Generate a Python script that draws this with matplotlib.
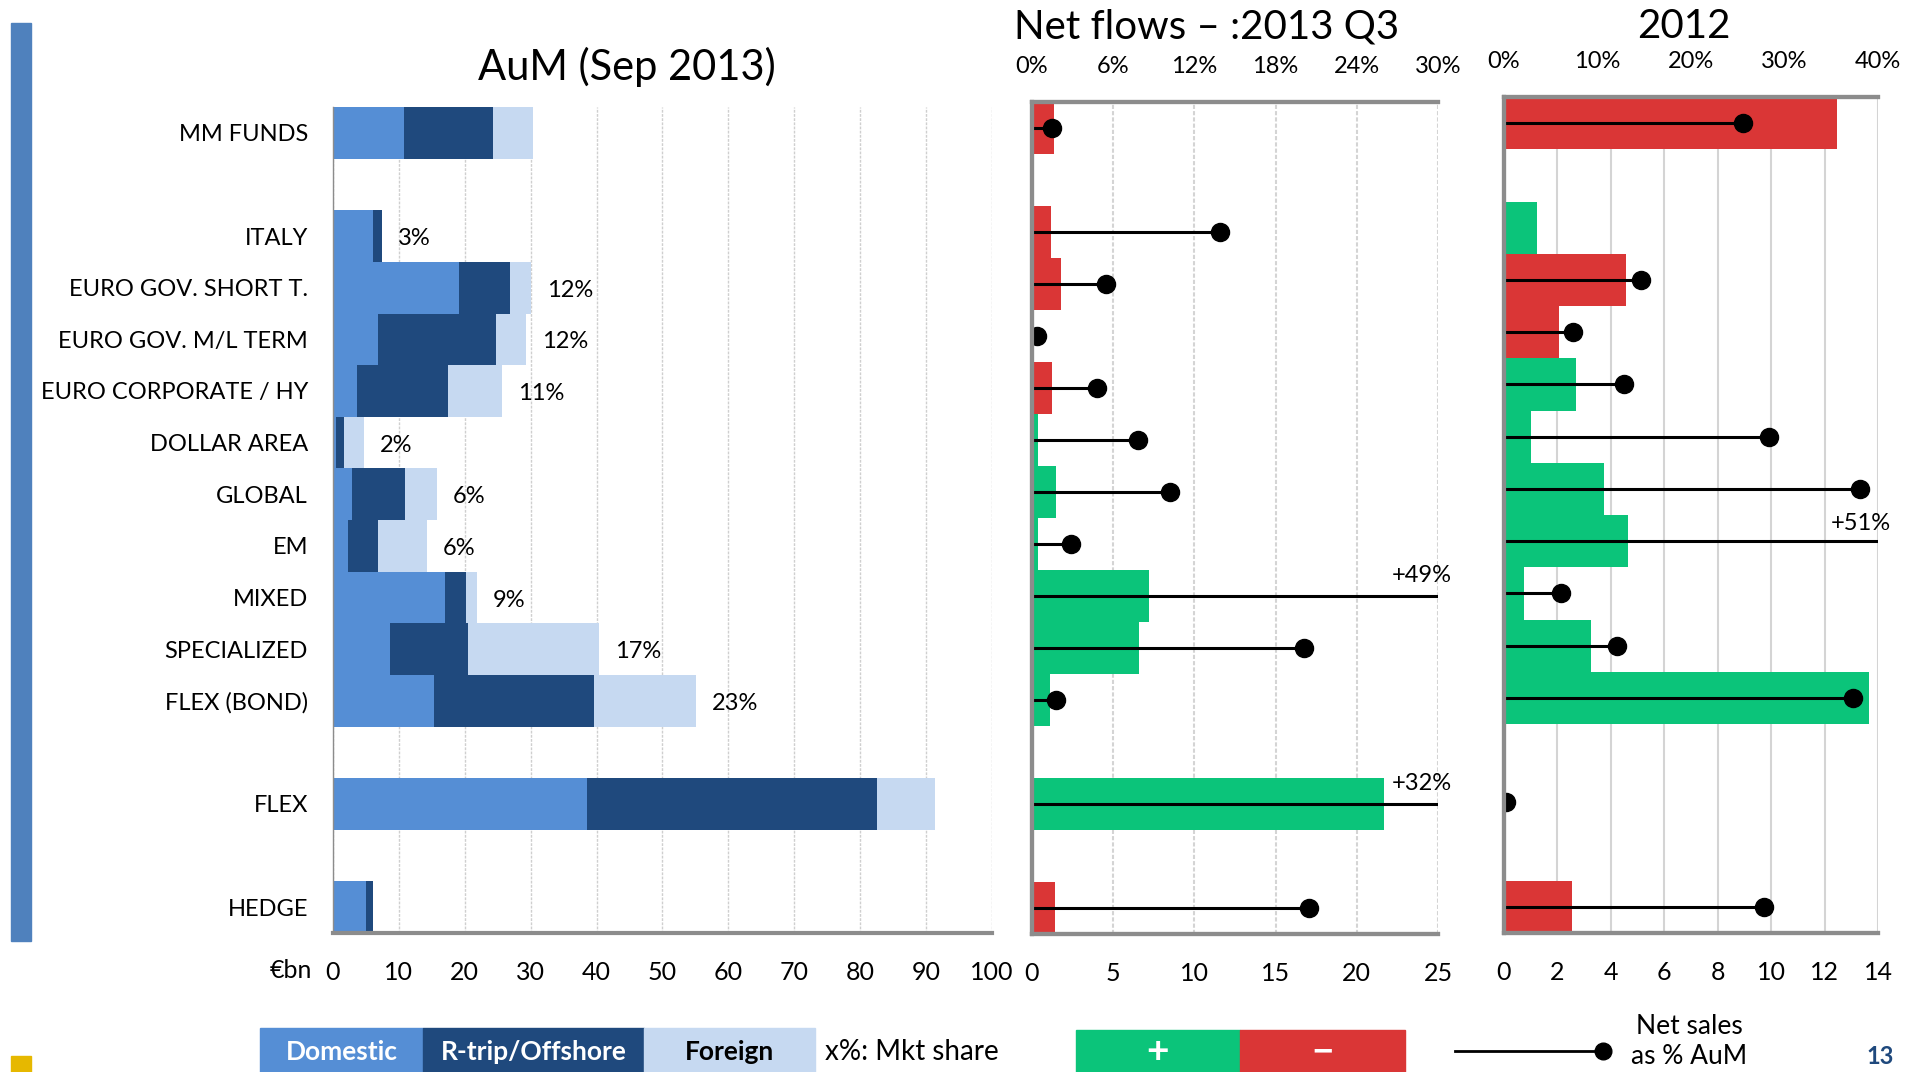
import numpy as np
import matplotlib
matplotlib.use("Agg")
import matplotlib.pyplot as plt
from matplotlib.patches import Rectangle
from matplotlib.lines import Line2D

plt.rcParams['font.family'] = ['Lato', 'DejaVu Sans']

# ---- data ----
categories = ['MM FUNDS', 'ITALY', 'EURO GOV. SHORT T.', 'EURO GOV. M/L TERM',
              'EURO CORPORATE / HY', 'DOLLAR AREA', 'GLOBAL', 'EM', 'MIXED',
              'SPECIALIZED', 'FLEX (BOND)', 'FLEX', 'HEDGE']
gap_after = ['MM FUNDS', 'FLEX (BOND)', 'FLEX']

# AuM Sep 2013, EUR bn
domestic = [10.7, 6.0, 19.1, 6.9, 3.6, 0.4, 2.9, 2.3, 17.0, 8.7, 15.4, 38.5, 5.0]
rtrip = [13.6, 1.4, 7.8, 17.9, 13.8, 1.25, 8.0, 4.5, 3.2, 11.8, 24.2, 44.0, 1.0]
foreign = [6.1, 0.1, 3.1, 4.5, 8.3, 3.05, 4.9, 7.5, 1.6, 19.9, 15.5, 8.9, 0.0]
mkt_share = [None, '3%', '12%', '12%', '11%', '2%', '6%', '6%', '9%', '17%', '23%', None, None]

# net flows 2013 Q3 (EUR bn, signed) and net sales as % AuM
flows_q3 = [-1.33, -1.18, -1.76, 0.0, -1.25, 0.4, 1.5, 0.4, 7.2, 6.56, 1.08, 21.7, -1.43]
pct_q3 = [1.5, 13.9, 5.5, 0.35, 4.8, 7.8, 10.2, 2.9, 49, 20.1, 1.8, 32, 20.5]

# net flows 2012
flows_2012 = [-12.45, 1.22, -4.58, -2.05, 2.68, 1.0, 3.75, 4.64, 0.76, 3.25, 13.65, 0.0, -2.55]
pct_2012 = [25.6, np.nan, 14.6, 7.35, 12.8, 28.3, 38.1, 51, 6.1, 12.1, 37.3, 0.25, 27.8]

# ---- colours ----
C_DOM = '#558ed5'
C_RT = '#1f497d'
C_FOR = '#c6d9f1'
C_POS = '#0bc47a'
C_NEG = '#da3636'
C_SPINE = '#8c8c8c'

# row positions (blank row after some groups)
rows = []
pos = 0
for c in categories:
    rows.append(pos)
    pos += 2 if c in gap_after else 1
rows = np.array(rows)

W, H = 1908, 1072
fig = plt.figure(figsize=(W / 100, H / 100), dpi=100)


def box(x0, y0, x1, y1):
    return [x0 / W, 1 - y1 / H, (x1 - x0) / W, (y1 - y0) / H]


ax1 = fig.add_axes(box(333, 107, 992, 933))
ax2 = fig.add_axes(box(1032, 102, 1438, 934))
ax3 = fig.add_axes(box(1504, 97, 1878, 933))

# ---- AuM panel ----
dom = np.array(domestic)
rt = np.array(rtrip)
fo = np.array(foreign)
ax1.barh(rows, dom, height=1.0, color=C_DOM, linewidth=0)
ax1.barh(rows, rt, left=dom, height=1.0, color=C_RT, linewidth=0)
ax1.barh(rows, fo, left=dom + rt, height=1.0, color=C_FOR, linewidth=0)
tot = dom + rt + fo
for r, t, s in zip(rows, tot, mkt_share):
    if s:
        ax1.text(t + 2.4, r + 0.05, s, ha='left', va='center', fontsize=17)

ax1.set_xlim(0, 100)
ax1.set_ylim(15.5, -0.5)
ax1.set_xticks(np.arange(0, 101, 10))
ax1.set_yticks(rows)
ax1.set_yticklabels(categories, fontsize=17)
ax1.tick_params(axis='y', length=0, pad=18)
ax1.tick_params(axis='x', length=0, pad=20, labelsize=18)
ax1.xaxis.grid(True, color='#cfcfcf', linestyle=(0, (2, 1)), linewidth=1)
ax1.set_axisbelow(True)
for s in ['top', 'right']:
    ax1.spines[s].set_visible(False)
ax1.spines['left'].set_color(C_SPINE)
ax1.spines['left'].set_linewidth(1)
ax1.spines['bottom'].set_color(C_SPINE)
ax1.spines['bottom'].set_linewidth(3)
fig.text(270 / W, 1 - 971 / H, '€bn', ha='left', va='center', fontsize=18)
fig.text(627 / W, 1 - 67 / H, 'AuM (Sep 2013)', ha='center', va='center', fontsize=30)


def flow_panel(ax, flows, pct, xmax, pmax, xstep, pstep, grid_style, label_dy):
    f = np.array(flows)
    colors = [C_POS if v >= 0 else C_NEG for v in f]
    ax.barh(rows, np.abs(f), height=1.0, color=colors, linewidth=0)
    ax.set_xlim(0, xmax)
    ax.set_ylim(15.5, -0.5)
    ax.set_xticks(np.arange(0, xmax + 0.01, xstep))
    ax.set_yticks([])
    ax.tick_params(axis='x', length=0, pad=20, labelsize=18)
    ax.xaxis.grid(True, color='#d4d4d4', linestyle=grid_style, linewidth=1.5)
    ax.set_axisbelow(True)
    tw = ax.twiny()
    tw.set_xlim(0, pmax)
    tw.set_xticks(np.arange(0, pmax + 0.01, pstep))
    tw.set_xticklabels([f'{v:.0f}%' for v in np.arange(0, pmax + 0.01, pstep)])
    tw.tick_params(axis='x', length=0, pad=18, labelsize=17)
    for a in (ax, tw):
        a.spines['right'].set_visible(False)
        for s in ['top', 'bottom', 'left']:
            a.spines[s].set_color(C_SPINE)
            a.spines[s].set_linewidth(3)
    for r, p in zip(rows, pct):
        if np.isnan(p):
            continue
        tw.plot([0, p], [r, r], color='black', linewidth=2.2, solid_capstyle='butt')
        tw.plot([p], [r], 'o', color='black', markersize=13)
        if p > pmax:
            tw.text(pmax * 1.035, r - label_dy, f'+{p:.0f}%', ha='right', va='center',
                    fontsize=17, clip_on=False)
    return tw


flow_panel(ax2, flows_q3, pct_q3, 25, 30, 5, 6, (0, (2, 1)), 0.4)
flow_panel(ax3, flows_2012, pct_2012, 14, 40, 2, 10, '-', 0.34)
fig.text(1207 / W, 1 - 27 / H, 'Net flows – :2013 Q3', ha='center', va='center', fontsize=29)
fig.text(1684 / W, 1 - 27 / H, '2012', ha='center', va='center', fontsize=29)

# ---- left accent bars ----
fig.patches.append(Rectangle((11 / W, 1 - 941 / H), 20 / W, (941 - 23) / H,
                             transform=fig.transFigure, color='#4f81bd', zorder=0))
fig.patches.append(Rectangle((11 / W, 0), 20 / W, 16 / H,
                             transform=fig.transFigure, color='#e6b800', zorder=0))

# ---- bottom legends ----
leg = [('Domestic', C_DOM, 'white', 260, 423),
       ('R-trip/Offshore', C_RT, 'white', 423, 644),
       ('Foreign', C_FOR, 'black', 644, 815)]
for txt, col, tc, x0, x1 in leg:
    fig.patches.append(Rectangle((x0 / W, 0), (x1 - x0) / W, (1072 - 1028) / H,
                                 transform=fig.transFigure, color=col))
    fig.text((x0 + x1) / 2 / W, 1 - 1052 / H, txt, ha='center', va='center',
             fontsize=19, fontweight='bold', color=tc)
fig.text(825 / W, 1 - 1052 / H, 'x%: Mkt share', ha='left', va='center', fontsize=20)

for txt, col, x0, x1 in [('+', C_POS, 1076, 1240), ('−', C_NEG, 1240, 1405)]:
    fig.patches.append(Rectangle((x0 / W, 0), (x1 - x0) / W, (1072 - 1030) / H,
                                 transform=fig.transFigure, color=col))
    fig.text((x0 + x1) / 2 / W, 1 - 1052 / H, txt, ha='center', va='center',
             fontsize=28, fontweight='bold', color='white')

fig.lines.append(Line2D([1455 / W, 1603 / W], [1 - 1051 / H, 1 - 1051 / H],
                        transform=fig.transFigure, color='black', linewidth=2))
fig.lines.append(Line2D([1603 / W], [1 - 1051 / H], transform=fig.transFigure,
                        marker='o', color='black', markersize=12))
fig.text(1689 / W, 1 - 1027 / H, 'Net sales', ha='center', va='center', fontsize=19)
fig.text(1689 / W, 1 - 1056 / H, 'as % AuM', ha='center', va='center', fontsize=19)
fig.text(1866 / W, 1 - 1068 / H, '13', ha='left', va='bottom', fontsize=17,
         fontweight='bold', color='#1f497d')

fig.savefig('out.png', dpi=100)
